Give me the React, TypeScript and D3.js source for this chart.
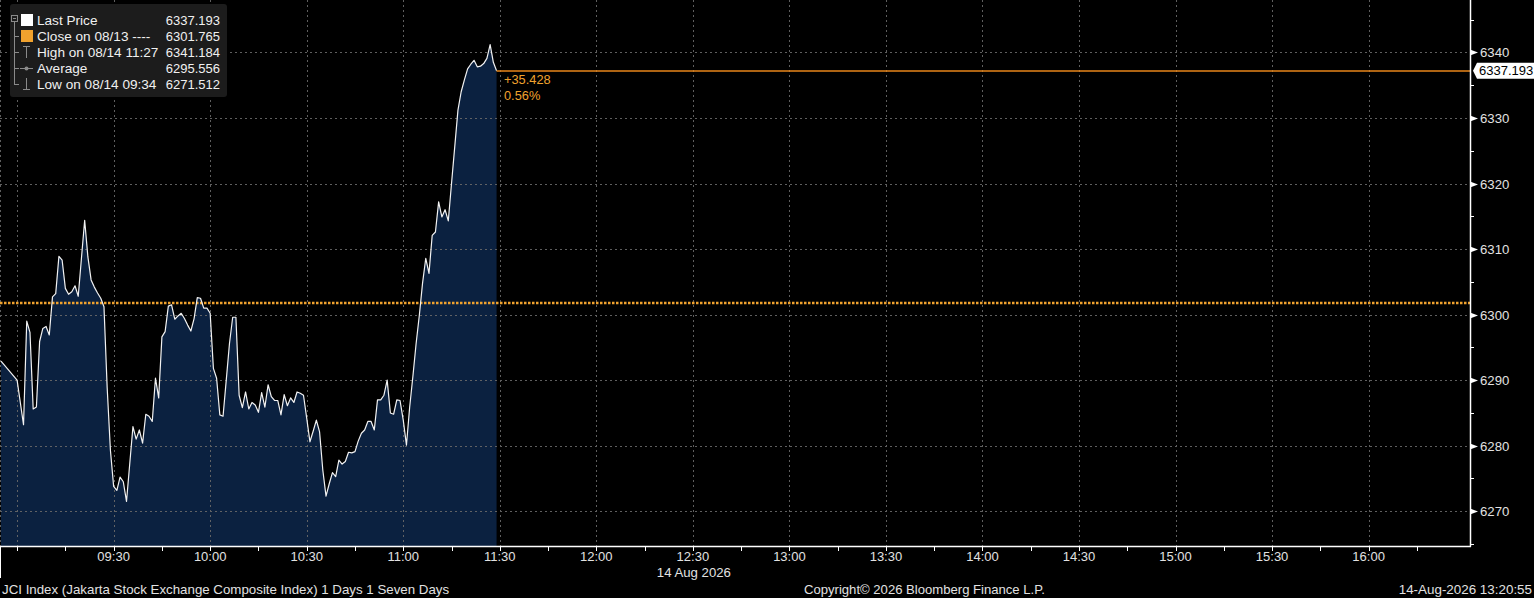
import * as d3 from "d3";

// intraday prices, 14 Aug 2026
const times = [
  "08:55", "09:00", "09:02", "09:03", "09:04", "09:05", "09:06", "09:07", "09:08", "09:09",
  "09:10", "09:11", "09:12", "09:13", "09:14", "09:15", "09:16", "09:17", "09:18", "09:19",
  "09:20", "09:21", "09:22", "09:23", "09:24", "09:25", "09:26", "09:27", "09:28", "09:29",
  "09:30", "09:31", "09:32", "09:33", "09:34", "09:35", "09:36", "09:37", "09:38", "09:39",
  "09:40", "09:41", "09:42", "09:43", "09:44", "09:45", "09:46", "09:47", "09:48", "09:49",
  "09:50", "09:51", "09:52", "09:53", "09:54", "09:55", "09:56", "09:57", "09:58", "09:59",
  "10:00", "10:01", "10:02", "10:03", "10:04", "10:05", "10:06", "10:07", "10:08", "10:09",
  "10:10", "10:11", "10:12", "10:13", "10:14", "10:15", "10:16", "10:17", "10:18", "10:19",
  "10:20", "10:21", "10:22", "10:23", "10:24", "10:25", "10:26", "10:27", "10:28", "10:29",
  "10:30", "10:31", "10:32", "10:33", "10:34", "10:35", "10:36", "10:37", "10:38", "10:39",
  "10:40", "10:41", "10:42", "10:43", "10:44", "10:45", "10:46", "10:47", "10:48", "10:49",
  "10:50", "10:51", "10:52", "10:53", "10:54", "10:55", "10:56", "10:57", "10:58", "10:59",
  "11:00", "11:01", "11:02", "11:03", "11:04", "11:05", "11:06", "11:07", "11:08", "11:09",
  "11:10", "11:11", "11:12", "11:13", "11:14", "11:15", "11:16", "11:17", "11:18", "11:19",
  "11:20", "11:21", "11:22", "11:23", "11:24", "11:25", "11:26", "11:27", "11:28", "11:29",
];
const prices = [
  6292.9, 6290.0, 6283.2, 6299.0, 6297.3, 6285.6, 6285.9, 6295.9, 6297.9, 6298.2,
  6296.9, 6302.7, 6303.2, 6308.9, 6308.3, 6304.0, 6303.1, 6303.5, 6304.4, 6302.8,
  6308.6, 6314.4, 6308.8, 6305.3, 6304.2, 6303.3, 6302.5, 6301.2, 6288.8, 6279.3,
  6273.8, 6273.2, 6275.2, 6274.5, 6271.5, 6277.2, 6282.9, 6281.0, 6282.4, 6280.4,
  6284.8, 6284.5, 6283.7, 6290.3, 6287.3, 6296.6, 6297.4, 6301.3, 6301.5, 6299.3,
  6299.8, 6300.2, 6299.4, 6298.4, 6297.5, 6299.4, 6302.6, 6302.5, 6301.0, 6301.0,
  6300.2, 6291.8, 6290.3, 6284.7, 6284.5, 6290.0, 6295.6, 6299.6, 6299.6, 6287.7,
  6285.8, 6288.2, 6285.6, 6286.6, 6286.2, 6285.1, 6288.1, 6285.9, 6289.3, 6287.5,
  6286.9, 6286.9, 6284.7, 6287.8, 6286.1, 6287.3, 6286.6, 6288.2, 6288.0, 6287.7,
  6284.2, 6280.6, 6282.2, 6283.9, 6282.1, 6276.3, 6272.3, 6274.2, 6275.9, 6275.3,
  6277.8, 6277.2, 6277.6, 6279.0, 6278.9, 6279.1, 6280.7, 6281.9, 6282.4, 6283.7,
  6283.7, 6282.4, 6287.0, 6287.0, 6287.7, 6290.0, 6285.0, 6284.8, 6287.0, 6286.9,
  6283.9, 6280.1, 6285.9, 6290.6, 6295.6, 6299.9, 6304.8, 6308.6, 6306.3, 6312.1,
  6312.6, 6317.2, 6314.9, 6316.0, 6314.3, 6320.0, 6325.6, 6331.2, 6334.0, 6335.8,
  6337.5, 6338.2, 6338.8, 6337.8, 6337.9, 6338.3, 6339.1, 6341.2, 6338.5, 6337.2,
];

const yTicks = [6270, 6280, 6290, 6300, 6310, 6320, 6330, 6340];
const yMinorTicks = [6265, 6275, 6285, 6295, 6305, 6315, 6325, 6335, 6345];
const gridTimes = ["09:00", "09:30", "10:00", "10:30", "11:00", "11:30", "12:00", "12:30",
  "13:00", "13:30", "14:00", "14:30", "15:00", "15:30", "16:00"];
const labelTimes = ["09:30", "10:00", "10:30", "11:00", "11:30", "12:00", "12:30",
  "13:00", "13:30", "14:00", "14:30", "15:00", "15:30", "16:00"];
const tickTimes = ["09:00", "09:15", "09:30", "09:45", "10:00", "10:15", "10:30", "10:45",
  "11:00", "11:15", "11:30", "11:45", "12:00", "12:15", "12:30", "12:45", "13:00", "13:15",
  "13:30", "13:45", "14:00", "14:15", "14:30", "14:45", "15:00", "15:15", "15:30", "15:45",
  "16:00", "16:15"];

const legendLabels = ["Last Price", "Close on 08/13 ----", "High on 08/14 11:27", "Average", "Low on 08/14 09:34"];
const legendValues = ["6337.193", "6301.765", "6341.184", "6295.556", "6271.512"];

const prevClose = 6301.765;
const lastPrice = 6337.193;
const changeText = "+35.428";
const changePct = "0.56%";

const W = 1534;
const H = 598;
const plotRight = 1470;
const plotBottom = 546;
const font = "'Liberation Sans', Arial, sans-serif";
const orange = "#f0a22e";
const lastLine = "#e8861a";
const fill = "#0b2140";
const grid = "#6a6a6a";
const txt = "#e2e2e2";

const parse = d3.timeParse("%H:%M:%S");
const pt = (s) => parse(s + ":00");

export default function App() {
  const x = d3.scaleTime().domain([parse("08:55:00"), parse("16:31:30")]).range([1, plotRight]);
  const y = d3.scaleLinear().domain([6264.7, 6348]).range([plotBottom, 0]);

  const data = times.map((t, i) => ({ t: pt(t), v: prices[i] }));
  const line = d3.line().x((d) => x(d.t)).y((d) => y(d.v));
  const area = d3.area().x((d) => x(d.t)).y0(plotBottom).y1((d) => y(d.v));
  const lastX = x(data[data.length - 1].t);
  const lastY = y(lastPrice);

  const rowY = (i) => 25 + i * 16;

  return (
    <div style={{ position: "fixed", left: 0, top: 0, width: W, height: H, background: "#000" }}>
      <svg width={W} height={H} style={{ display: "block" }} fontFamily={font}>
        <rect width={W} height={H} fill="#000" />

        {/* price area */}
        <path d={area(data)} fill={fill} />

        {/* grid */}
        <g stroke={grid} strokeWidth={1} strokeDasharray="2,3" opacity={0.9}>
          {yTicks.map((v) => (
            <line key={v} x1={0} x2={plotRight} y1={Math.round(y(v)) + 0.5} y2={Math.round(y(v)) + 0.5} />
          ))}
          {gridTimes.map((t) => (
            <line key={t} x1={Math.round(x(pt(t))) + 0.5} x2={Math.round(x(pt(t))) + 0.5} y1={0} y2={plotBottom} />
          ))}
          <line x1={0.5} x2={0.5} y1={0} y2={plotBottom} />
        </g>

        {/* previous close */}
        <line x1={0} x2={plotRight} y1={y(prevClose)} y2={y(prevClose)} stroke={orange}
          strokeWidth={2.5} strokeDasharray="2.5,1.5" />

        {/* price line */}
        <path d={line(data)} fill="none" stroke="#f2f2f2" strokeWidth={1.2} strokeLinejoin="round" />

        {/* last price line + change */}
        <line x1={lastX} x2={plotRight} y1={Math.round(lastY)} y2={Math.round(lastY)}
          stroke={lastLine} strokeWidth={1.6} />
        <text x={504} y={84} fill={orange} fontSize={12.8}>{changeText}</text>
        <text x={504} y={100} fill={orange} fontSize={12.8}>{changePct}</text>

        {/* right axis */}
        <line x1={plotRight + 0.5} x2={plotRight + 0.5} y1={0} y2={plotBottom + 0.5} stroke="#fff" strokeWidth={1.5} />
        {yMinorTicks.map((v) => (
          <line key={v} x1={plotRight} x2={plotRight + 4} y1={Math.round(y(v)) + 0.5} y2={Math.round(y(v)) + 0.5} stroke="#fff" />
        ))}
        {yTicks.map((v) => {
          const yy = Math.round(y(v)) + 0.5;
          return (
            <g key={v}>
              <path d={`M${plotRight},${yy - 3}L${plotRight + 8},${yy}L${plotRight},${yy + 3}Z`} fill="#fff" />
              <text x={1480} y={yy + 4.5} fill={txt} fontSize={13.2}>{v}</text>
            </g>
          );
        })}
        <path
          d={`M${plotRight + 3},${lastY}L${plotRight + 7},${lastY - 8}H${W}V${lastY + 8}H${plotRight + 7}Z`}
          fill="#fff"
        />
        <text x={1479} y={lastY + 4.5} fill="#000" fontSize={13}>{lastPrice.toFixed(3)}</text>

        {/* bottom axis */}
        <line x1={0} x2={plotRight + 1} y1={plotBottom + 0.5} y2={plotBottom + 0.5} stroke="#fff" strokeWidth={1.5} />
        <line x1={0.5} x2={0.5} y1={plotBottom} y2={578} stroke="#fff" />
        {tickTimes.map((t) => (
          <line key={t} x1={Math.round(x(pt(t))) + 0.5} x2={Math.round(x(pt(t))) + 0.5}
            y1={plotBottom} y2={plotBottom + 5} stroke="#fff" />
        ))}
        {labelTimes.map((t) => (
          <text key={t} x={x(pt(t))} y={561} fill={txt} fontSize={13} textAnchor="middle">{t}</text>
        ))}
        <text x={x(pt("12:30")) + 1} y={577} fill={txt} fontSize={13.2} textAnchor="middle">14 Aug 2026</text>

        {/* footer */}
        <text x={2} y={594} fill={txt} fontSize={13.3}>JCI Index (Jakarta Stock Exchange Composite Index) 1 Days 1 Seven Days</text>
        <text x={804} y={594} fill={txt} fontSize={13.1}>Copyright© 2026 Bloomberg Finance L.P.</text>
        <text x={1532} y={594} fill={txt} fontSize={13.4} textAnchor="end">14-Aug-2026 13:20:55</text>

        {/* legend */}
        <g>
          <rect x={10} y={4} width={217} height={93} rx={3} fill="#1c1c1c" />
          <g stroke="#8a8a8a" strokeWidth={1} fill="none">
            <rect x={11.5} y={15.5} width={6} height={6} />
            <line x1={13} x2={16} y1={18.5} y2={18.5} />
            <line x1={14.5} x2={14.5} y1={22} y2={rowY(4) - 4} />
            <line x1={14.5} x2={19} y1={rowY(1) - 4.5} y2={rowY(1) - 4.5} />
            <line x1={14.5} x2={19} y1={rowY(2) - 4.5} y2={rowY(2) - 4.5} />
            <line x1={14.5} x2={19} y1={rowY(3) - 4.5} y2={rowY(3) - 4.5} />
            <line x1={14.5} x2={19} y1={rowY(4) - 4.5} y2={rowY(4) - 4.5} />
            {/* high */}
            <line x1={23} x2={30} y1={rowY(2) - 10.5} y2={rowY(2) - 10.5} />
            <line x1={26.5} x2={26.5} y1={rowY(2) - 10.5} y2={rowY(2) + 1} />
            {/* average */}
            <line x1={20} x2={33} y1={rowY(3) - 4.5} y2={rowY(3) - 4.5} />
            {/* low */}
            <line x1={26.5} x2={26.5} y1={rowY(4) - 11} y2={rowY(4) + 0.5} />
            <line x1={23} x2={30} y1={rowY(4) + 0.5} y2={rowY(4) + 0.5} />
          </g>
          <circle cx={26.5} cy={rowY(3) - 4.5} r={2} fill="#8a8a8a" />
          <rect x={21} y={14} width={12} height={12} fill="#fff" />
          <rect x={21} y={30} width={12} height={12} fill={orange} />
          {legendLabels.map((l, i) => (
            <text key={l} x={37} y={rowY(i)} fill="#f0f0f0" fontSize={13.6}>{l}</text>
          ))}
          {legendValues.map((v, i) => (
            <text key={i} x={220} y={rowY(i)} fill="#f0f0f0" fontSize={13} textAnchor="end">{v}</text>
          ))}
        </g>
      </svg>
    </div>
  );
}
